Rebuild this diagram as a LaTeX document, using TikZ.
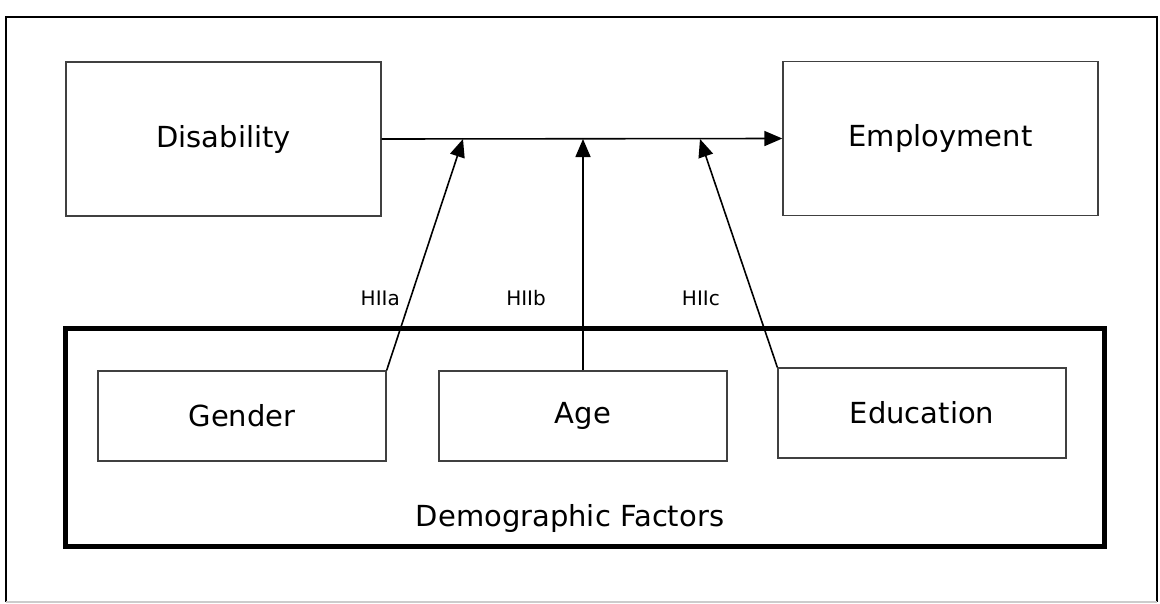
\documentclass[tikz,border=0pt]{standalone}
\usepackage{fontspec}
\setmainfont{DejaVu Sans}
\usetikzlibrary{arrows.meta}

\tikzset{
  box/.style={draw=black!75, line width=1.3pt, minimum width=288pt, minimum height=90pt, inner sep=0pt, font=\fontsize{29}{33}\selectfont},
  bigbox/.style={box, minimum width=315pt, minimum height=154pt},
  link/.style={line width=1.6pt, -{Triangle[length=18pt,width=15pt]}},
  hyp/.style={inner sep=0pt, font=\fontsize{20}{24}\selectfont}
}

\begin{document}
\begin{tikzpicture}[x=1pt,y=-1pt]
  \useasboundingbox (0,0) rectangle (1160,603);
  % outer frame
  \draw[line width=1.6pt] (6,602) -- (6,17) -- (1157,17) -- (1157,602);
  \draw[line width=1.2pt, black!20] (6,602) -- (1157,602);

  % top row
  \node[bigbox] (dis) at (223.5,139) {Disability};
  \node[bigbox] (emp) at (940.5,138.5) {Employment};

  % demographic factors
  \node[draw, line width=5pt, minimum width=1039pt, minimum height=218pt, inner sep=0pt] (demo) at (584.5,437) {};
  \node[box] (gen) at (242,416) {Gender};
  \node[box] (age) at (583,416) {Age};
  \node[box] (edu) at (922,413) {Education};
  \node[inner sep=0pt, font=\fontsize{29}{33}\selectfont] (demolabel) at (570,518) {Demographic Factors};

  \coordinate (ha) at (463,139);
  \coordinate (hc) at (700,139);

  \draw[link] (dis.east) -- (emp.west);
  \draw[link] (gen.north east) -- (ha);
  \draw[link] (age.north) -- (age.north |- dis.east);
  \draw[link] (edu.north west) -- (hc);

  \node[hyp, anchor=east] (hiia) at (400,298) {HIIa};
  \node[hyp, anchor=east] (hiib) at (546,298) {HIIb};
  \node[hyp, anchor=east] (hiic) at (720,298) {HIIc};
\end{tikzpicture}
\end{document}
